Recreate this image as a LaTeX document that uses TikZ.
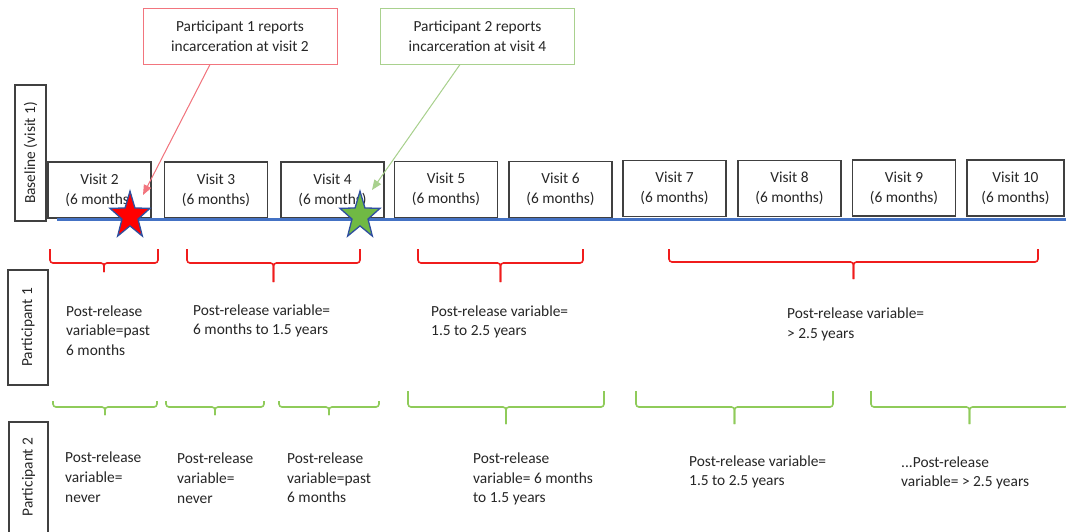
\documentclass[tikz,border=0pt]{standalone}
\usepackage{fontspec}
\setmainfont{Carlito}
\usetikzlibrary{shapes.geometric,arrows.meta}

\definecolor{inkgray}{HTML}{262626}
\definecolor{boxgray}{HTML}{404040}
\definecolor{calloutred}{HTML}{F2757E}
\definecolor{calloutgreen}{HTML}{A9D18E}
\definecolor{bracered}{HTML}{F01C1C}
\definecolor{bracegreen}{HTML}{8FCB5A}
\definecolor{timeline}{HTML}{4472C4}
\definecolor{starred}{HTML}{FF0000}
\definecolor{stargreen}{HTML}{70B944}
\definecolor{starrim}{HTML}{2F4F9F}

\tikzset{
  every node/.style={font=\fontsize{15.4}{19.7}\selectfont, text=inkgray},
  visitbox/.style={draw=boxgray, line width=1.2pt, minimum width=103pt,
    minimum height=56pt, align=center, inner sep=0pt},
  sidebox/.style={draw=boxgray, line width=1.2pt, rotate=90, inner sep=0pt},
  boxline/.style={draw=boxgray, line width=1.2pt},
  callout/.style={line width=1pt, minimum width=194pt, minimum height=56pt,
    align=center, inner sep=0pt},
  pointer/.style={line width=1pt, -{Triangle[length=10pt,width=8pt]}},
  note/.style={align=left, anchor=west, inner sep=0pt},
  event/.style={star, star points=5, star point ratio=2.5, minimum size=42pt,
    inner sep=0pt, draw=starrim, line width=1.3pt, yscale=1.18, transform shape},
  redspan/.style={draw=bracered, line width=1.6pt, rounded corners=3pt},
  greenspan/.style={draw=bracegreen, line width=1.6pt, rounded corners=3pt},
}

% bracket with a centre spike: style, x1, x2, top of ends, bar, spike tip
\newcommand{\spanbrace}[6]{%
  \draw[#1] (#2,#4) -- (#2,#5) -- ({(#2+#3)/2},#5) -- ({(#2+#3)/2},#6);
  \draw[#1] (#3,#4) -- (#3,#5) -- ({(#2+#3)/2},#5) -- ({(#2+#3)/2},#6);}

\begin{document}
\begin{tikzpicture}[x=1pt, y=-1pt]
\fill[white] (0,0) rectangle (1066,531);
\useasboundingbox (0,0) rectangle (1066,531);

% row labels
\node[sidebox, minimum width=136pt, minimum height=31pt] (base) at (30.5,153) {Baseline (visit 1)};
\node[sidebox, minimum width=115pt, minimum height=40pt] (p1) at (28,327.5) {Participant 1};
\node[rotate=90, inner sep=0pt] (p2) at (28.5,477) {Participant 2};
\draw[boxline] (9,545) |- (48,422) -- (48,545);

% visits
\node[visitbox] (v2)  at (99.5,190)  {Visit 2\\(6 months)};
\node[visitbox] (v3)  at (216,190)   {Visit 3\\(6 months)};
\node[visitbox] (v4)  at (332.5,190) {Visit 4\\(6 months)};
\node[visitbox] (v5)  at (446,189.5) {Visit 5\\(6 months)};
\node[visitbox] (v6)  at (560.5,189.5) {Visit 6\\(6 months)};
\node[visitbox] (v7)  at (674.5,188.5) {Visit 7\\(6 months)};
\node[visitbox] (v8)  at (789.5,188.5) {Visit 8\\(6 months)};
\node[visitbox] (v9)  at (904,188)   {Visit 9\\(6 months)};
\node[visitbox, minimum width=97pt] (v10) at (1015.5,188) {Visit 10\\(6 months)};

% time axis
\coordinate (axisL) at (57,219.5);
\coordinate (axisR) at (1070,219.5);
\draw[timeline, line width=3pt] (axisL) -- (axisR);

% incarceration events
\node[event, fill=starred]   (s1) at (130,216) {};
\node[event, fill=stargreen] (s2) at (360,216) {};

% callouts
\node[callout, draw=calloutred]   (c1) at (240,36)   {Participant 1 reports\\incarceration at visit 2};
\node[callout, draw=calloutgreen] (c2) at (477.5,36) {Participant 2 reports\\incarceration at visit 4};
\coordinate (c1tip) at (143,195);
\coordinate (c2tip) at (372,190);
\draw[pointer, calloutred, fill=calloutred]   ([xshift=-30pt]c1.south) -- (c1tip);
\draw[pointer, calloutgreen, fill=calloutgreen] ([xshift=-17.5pt]c2.south) -- (c2tip);

% participant 1 spans
\spanbrace{redspan}{50}{158}{249}{263}{272}
\spanbrace{redspan}{187}{360}{249}{263}{282}
\spanbrace{redspan}{418}{583}{249}{263}{282}
\spanbrace{redspan}{669}{1038}{249}{262}{279}

\node[note] (t1a) at (66,330.5)  {Post-release\\variable=past\\6 months};
\node[note] (t1b) at (193,321)   {Post-release variable=\\6 months to 1.5 years};
\node[note] (t1c) at (431,322)   {Post-release variable=\\1.5 to 2.5 years};
\node[note] (t1d) at (787,324.5) {Post-release variable=\\> 2.5 years};

% participant 2 spans
\spanbrace{greenspan}{53}{157}{401}{407}{415}
\spanbrace{greenspan}{166}{264}{401}{407}{415}
\spanbrace{greenspan}{279}{379}{401}{407}{415}
\spanbrace{greenspan}{408}{604}{391}{407}{424}
\spanbrace{greenspan}{636}{833}{391}{407}{424}
\spanbrace{greenspan}{871}{1068}{391}{407}{424}

\node[note] (t2a) at (65,477)  {Post-release\\variable=\\never};
\node[note] (t2b) at (177,478) {Post-release\\variable=\\never};
\node[note] (t2c) at (287,478) {Post-release\\variable=past\\6 months};
\node[note] (t2d) at (473,479) {Post-release\\variable= 6 months\\to 1.5 years};
\node[note] (t2e) at (689,472) {Post-release variable=\\1.5 to 2.5 years};
\node[note] (t2f) at (901,473) {...Post-release\\variable= > 2.5 years};
\end{tikzpicture}
\end{document}
